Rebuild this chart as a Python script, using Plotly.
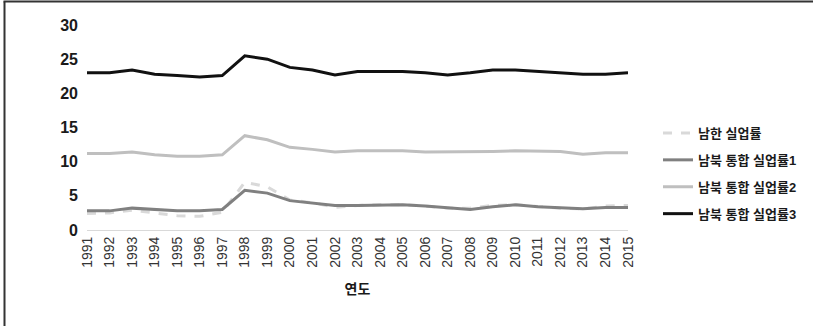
import plotly.graph_objects as go

years = [str(y) for y in range(1991, 2016)]
south = [2.4, 2.5, 2.9, 2.5, 2.1, 2.0, 2.6, 7.0, 6.3, 4.4, 4.0, 3.3, 3.6, 3.7, 3.7, 3.5, 3.2, 3.2, 3.6, 3.7, 3.4, 3.2, 3.1, 3.5, 3.6]
unified1 = [2.8, 2.8, 3.2, 3.0, 2.8, 2.8, 3.0, 5.8, 5.4, 4.3, 4.0, 3.6, 3.6, 3.6, 3.7, 3.5, 3.2, 3.0, 3.4, 3.7, 3.4, 3.2, 3.1, 3.3, 3.3]
unified2 = [11.2, 11.2, 11.4, 11.0, 10.8, 10.8, 11.0, 13.8, 13.2, 12.1, 11.8, 11.4, 11.6, 11.6, 11.6, 11.4, 11.4, 11.4, 11.5, 11.6, 11.6, 11.5, 11.1, 11.3, 11.3]
unified3 = [23.0, 23.0, 23.4, 22.8, 22.6, 22.4, 22.6, 25.5, 25.0, 23.8, 23.4, 22.7, 23.2, 23.2, 23.2, 23.0, 22.7, 23.0, 23.4, 23.4, 23.2, 23.0, 22.8, 22.8, 23.0]

names = ["남한 실업률", "남북 통합 실업률1", "남북 통합 실업률2", "남북 통합 실업률3"]
yticks = [0, 5, 10, 15, 20, 25, 30]

FONT = "Liberation Sans, Arial, Noto Sans CJK KR"

fig = go.Figure()
series = [
    (south, "#d9d9d9", "dash"),
    (unified1, "#808080", "solid"),
    (unified2, "#bfbfbf", "solid"),
    (unified3, "#111111", "solid"),
]
for i, (vals, col, dash) in enumerate(series):
    fig.add_trace(go.Scatter(
        x=years, y=vals, mode="lines", name=names[i], legendgroup=str(i),
        line=dict(color=col, width=3, dash=dash),
    ))

W, H = 813, 326
L, R, T, B = 87, 185, 25, 96
pw = W - L - R
ph = H - T - B

def px_x(p):
    return (p - L) / pw

def px_y(p):
    return (H - B - p) / ph

fig.update_layout(
    width=W, height=H,
    margin=dict(l=L, r=R, t=T, b=B, pad=0, autoexpand=False),
    paper_bgcolor="white", plot_bgcolor="white",
    font=dict(family=FONT, color="#222222"),
    showlegend=True,
    legend=dict(
        x=px_x(658), y=px_y(118), xanchor="left", yanchor="top",
        font=dict(size=13, color="#1a1a1a", family=FONT, weight="bold"),
        tracegroupgap=7, bgcolor="rgba(0,0,0,0)",
    ),
    xaxis=dict(
        type="category", tickangle=-90, automargin=False,
        tickfont=dict(size=14, color="#333333", family=FONT),
        showgrid=False, showline=True, linecolor="#d9d9d9", linewidth=1,
        ticks="", zeroline=False,
        title=dict(text="연도", font=dict(size=14, color="#1a1a1a", family=FONT, weight="bold"), standoff=17),
    ),
    yaxis=dict(
        range=[0, 30], tickvals=yticks, ticktext=[str(v) for v in yticks], automargin=False,
        tickfont=dict(size=16, color="#1a1a1a", family=FONT, weight="bold"),
        showgrid=False, showline=False, zeroline=False, ticks="",
        ticklabelstandoff=8,
    ),
    shapes=[
        dict(type="line", xref="paper", yref="paper", x0=px_x(4.5), x1=px_x(4.5), y0=px_y(1.5), y1=px_y(H),
             line=dict(color="#333333", width=2)),
        dict(type="line", xref="paper", yref="paper", x0=px_x(3.5), x1=px_x(W), y0=px_y(1.5), y1=px_y(1.5),
             line=dict(color="#333333", width=2)),
    ],
)

fig.write_html(
    "out.html",
    config={"displayModeBar": False, "staticPlot": True},
    post_script="document.body.style.margin='0';document.body.style.overflow='hidden';",
)
